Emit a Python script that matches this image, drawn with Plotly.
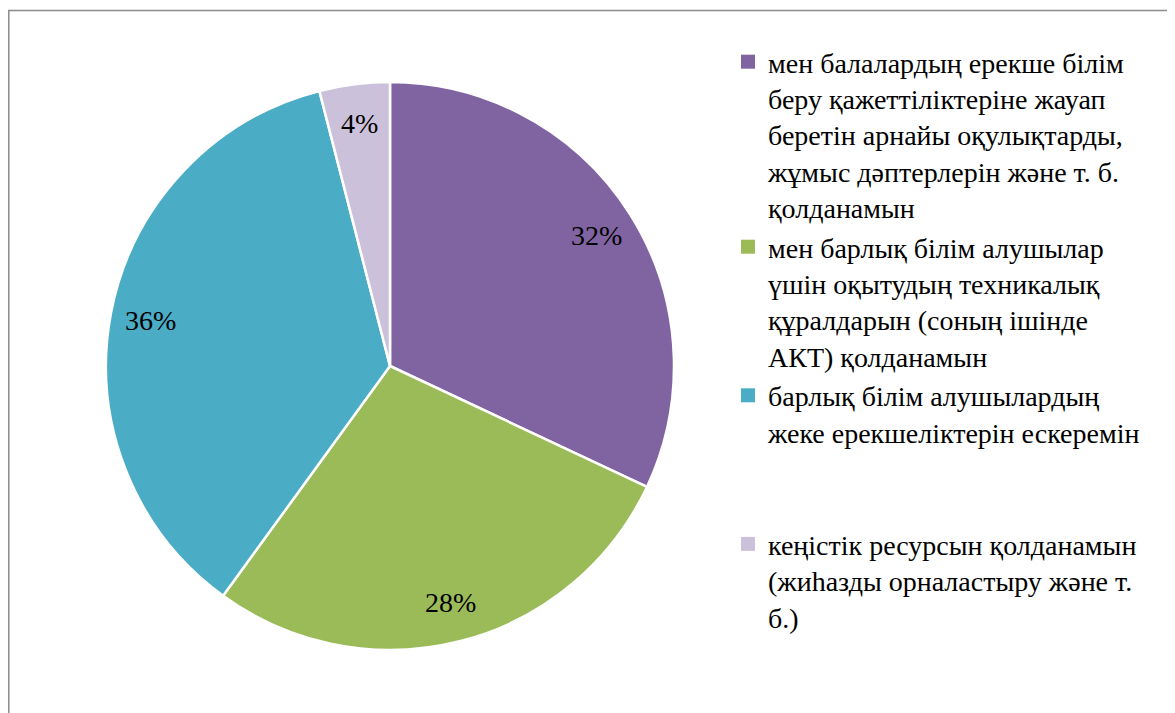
import math
import plotly.graph_objects as go

# Categories (legend labels, wrapped as in the source chart; &nbsp; lines pad the spacing)
labels = [
    "мен балалардың ерекше білім<br>беру қажеттіліктеріне жауап<br>беретін арнайы оқулықтарды,<br>жұмыс дәптерлерін және т. б.<br>қолданамын",
    "мен барлық білім алушылар<br>үшін оқытудың техникалық<br>құралдарын (соның ішінде<br>АКТ) қолданамын",
    "барлық білім алушылардың<br>жеке ерекшеліктерін ескеремін<br>&nbsp;<br>&nbsp;",
    "кеңістік ресурсын қолданамын<br>(жиһазды орналастыру және т.<br>б.)",
]
values = [32, 28, 36, 4]
colors = ["#8064A2", "#9BBB59", "#4BACC6", "#CCC1DA"]

W, H = 1175, 713
FONT = "Liberation Serif"

# pie placement in pixels (figure coordinates)
cx, cy, R = 382, 358, 284

fig = go.Figure()
fig.add_trace(
    go.Pie(
        labels=labels,
        values=values,
        sort=False,
        direction="clockwise",
        rotation=0,
        marker=dict(colors=colors, line=dict(color="white", width=2.5)),
        textinfo="none",
        hoverinfo="percent",
        showlegend=False,
        domain=dict(x=[(cx - R) / W, (cx + R) / W], y=[(H - cy - R) / H, (H - cy + R) / H]),
    )
)

# legend entries with larger square symbols, as in the source chart
for i, (lab, col) in enumerate(zip(labels, colors)):
    fig.add_trace(
        go.Scatter(
            x=[None], y=[None], mode="markers", name=lab, legendgroup=str(i),
            marker=dict(symbol="square", size=14, color=col),
        )
    )

# percentage labels placed at the middle angle of each slice
total = sum(values)
start = 0.0
annotations = []
for v in values:
    mid = (start + v / 2) / total * 2 * math.pi
    start += v
    r = 0.86 * R
    px_ = cx + r * math.sin(mid)
    py_ = cy - r * math.cos(mid)
    annotations.append(dict(
        x=px_ / W, y=1 - py_ / H, xref="paper", yref="paper",
        xanchor="center", yanchor="middle",
        text=f"{round(v / total * 100)}%", showarrow=False,
        font=dict(family=FONT, size=28, color="black"),
    ))

# Customizing the layout
fig.update_layout(
    width=W,
    height=H,
    margin=dict(l=0, r=0, t=0, b=0),
    paper_bgcolor="white",
    plot_bgcolor="white",
    xaxis=dict(visible=False),
    yaxis=dict(visible=False),
    annotations=annotations,
    legend=dict(
        x=720 / W,
        y=(H - 29) / H,
        xanchor="left",
        yanchor="top",
        valign="top",
        font=dict(family=FONT, size=28, color="black"),
        itemwidth=30,
        tracegroupgap=0,
    ),
    shapes=[
        dict(
            type="rect",
            xref="paper",
            yref="paper",
            x0=0.8 / W,
            x1=1.05,
            y0=-0.05,
            y1=(H - 2.5) / H,
            line=dict(color="#8c8c8c", width=1.5),
        )
    ],
)

fig.write_html("out.html")
